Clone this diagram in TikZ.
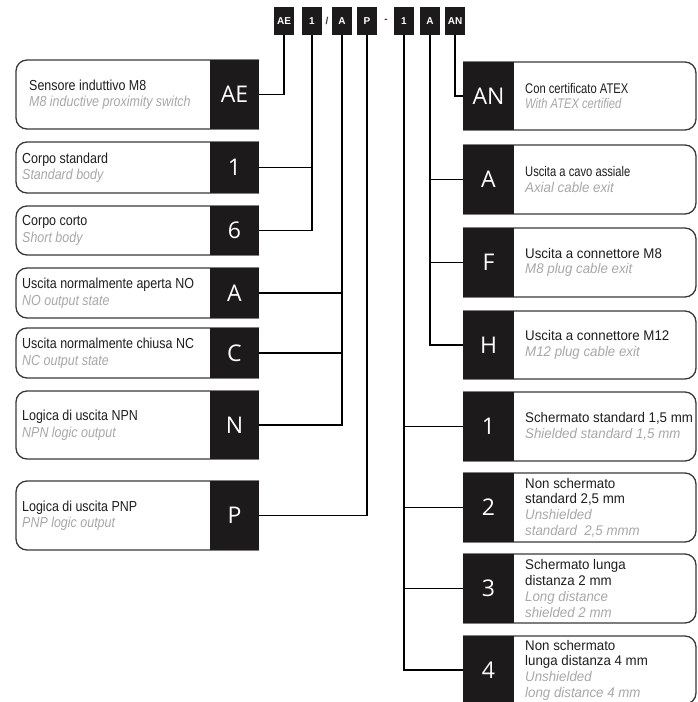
\documentclass[tikz,border=0pt]{standalone}
\usepackage{fontspec}
\setmainfont{Liberation Sans}
\newfontfamily\ltxt{Liberation Sans}[FakeStretch=0.86]
\newfontfamily\rtxt{Liberation Sans}[FakeStretch=0.95]
\newfontfamily\ntxt{Liberation Sans}[FakeStretch=0.8]
\newfontfamily\bigfont{Open Sans}
\definecolor{boxblack}{HTML}{1C1A1B}
\definecolor{subgray}{HTML}{A8A8A8}
\definecolor{edge}{HTML}{3A3A3A}
\definecolor{txt}{HTML}{1E1E1E}
\newcommand\sub[1]{{\color{subgray}\itshape #1}}
\tikzset{
  blk/.style={fill=boxblack, text=white, inner sep=0pt, font=\bigfont\fontsize{23}{23}\selectfont},
  code/.style={fill=boxblack, text=white, inner sep=0pt, minimum width=20pt, minimum height=28pt, font=\bfseries\fontsize{10}{10}\selectfont},
  sep/.style={text=edge, inner sep=0pt, font=\bfseries\fontsize{10}{10}\selectfont},
  frame/.style={draw=edge, line width=1.3pt, rounded corners=11pt},
  wire/.style={draw=black, line width=1.6pt},
  ldesc/.style={anchor=west, align=left, inner sep=0pt, text=txt, font=\ltxt\fontsize{14.5}{16.5}\selectfont},
  rdesc/.style={anchor=west, align=left, inner sep=0pt, text=txt, font=\rtxt\fontsize{14}{15.7}\selectfont},
}
% name, ytop, ybot, letter, text x, text
\newcommand\litem[6]{%
  \draw[frame] (259,#2) -- (16,#2) -- (16,#3) -- (259,#3);
  \node[blk, minimum width=49pt, minimum height={#3pt-#2pt}] (#1) at (234.5,{(#2+#3)/2}) {#4};
  \node[ldesc] (#1t) at (#5,{(#2+#3)/2}) {#6};
}
\newcommand\ritem[5]{%
  \draw[frame] (463,#2) -- (696,#2) -- (696,#3) -- (463,#3);
  \node[blk, minimum width=51pt, minimum height={#3pt-#2pt}] (#1) at (488.5,{(#2+#3)/2}) {#4};
  \node[rdesc] (#1t) at (525,{(#2+#3)/2}) {#5};
}
\begin{document}
\begin{tikzpicture}[x=1pt,y=-1pt]
\useasboundingbox (0,0) rectangle (697,702);
\clip (0,0) rectangle (697,702);
\fill[white] (0,0) rectangle (697,702);

% top code
\node[code] (tAE) at (284,21) {AE};
\node[code] (tB) at (312,21) {1};
\node[sep] (s1) at (327,21) {/};
\node[code] (tO) at (342,21) {A};
\node[code] (tL) at (367,21) {P};
\node[sep] (s2) at (386,21) {-};
\node[code] (tD) at (404,21) {1};
\node[code] (tC) at (430,21) {A};
\node[code] (tX) at (455,21) {AN};

% left items
\litem{lAE}{60}{129}{AE}{29}{Sensore induttivo M8\\\sub{M8 inductive proximity switch}}
\litem{lB1}{142}{193}{1}{22}{Corpo standard\\\sub{Standard body}}
\litem{lB6}{206}{255}{6}{22}{Corpo corto\\\sub{Short body}}
\litem{lOA}{268}{318}{A}{22}{Uscita normalmente aperta NO\\\sub{NO output state}}
\litem{lOC}{328}{378}{C}{22}{Uscita normalmente chiusa NC\\\sub{NC output state}}
\litem{lLN}{391}{459}{N}{22}{Logica di uscita NPN\\\sub{NPN logic output}}
\litem{lLP}{481}{550}{P}{22}{Logica di uscita PNP\\\sub{PNP logic output}}

% right items
\ritem{rAN}{62}{130}{AN}{{\ntxt Con certificato ATEX}\\\sub{\ntxt With ATEX certified}}
\ritem{rCA}{145}{214}{A}{{\ntxt Uscita a cavo assiale}\\\sub{Axial cable exit}}
\ritem{rCF}{228}{297}{F}{Uscita a connettore M8\\\sub{M8 plug cable exit}}
\ritem{rCH}{311}{379}{H}{Uscita a connettore M12\\\sub{M12 plug cable exit}}
\ritem{rD1}{392}{461}{1}{Schermato standard 1,5 mm\\\sub{Shielded standard 1,5 mm}}
\ritem{rD2}{473}{542}{2}{Non schermato\\standard 2,5 mm\\\sub{Unshielded}\\\sub{standard~ 2,5 mmm}}
\ritem{rD3}{554}{623}{3}{Schermato lunga\\distanza 2 mm\\\sub{Long distance}\\\sub{shielded 2 mm}}
\ritem{rD4}{636}{704}{4}{Non schermato\\lunga distanza 4 mm\\\sub{Unshielded}\\\sub{long distance 4 mm}}

% connectors left
\draw[wire] (tAE.south) |- (lAE.east);
\draw[wire] (tB.south) |- (lB6.east);
\draw[wire] (lB1.east) -- (lB1.east -| tB.south);
\draw[wire] (tO.south) |- (lLN.east);
\draw[wire] (lOA.east) -- (lOA.east -| tO.south);
\draw[wire] (lOC.east) -- (lOC.east -| tO.south);
\draw[wire] (tL.south) |- (lLP.east);
% connectors right
\draw[wire] (tX.south) |- (rAN.west);
\draw[wire] (tC.south) |- (rCH.west);
\draw[wire] (rCA.west) -- (rCA.west -| tC.south);
\draw[wire] (rCF.west) -- (rCF.west -| tC.south);
\draw[wire] (tD.south) |- (rD4.west);
\draw[wire] (rD1.west) -- (rD1.west -| tD.south);
\draw[wire] (rD2.west) -- (rD2.west -| tD.south);
\draw[wire] (rD3.west) -- (rD3.west -| tD.south);
\end{tikzpicture}
\end{document}
